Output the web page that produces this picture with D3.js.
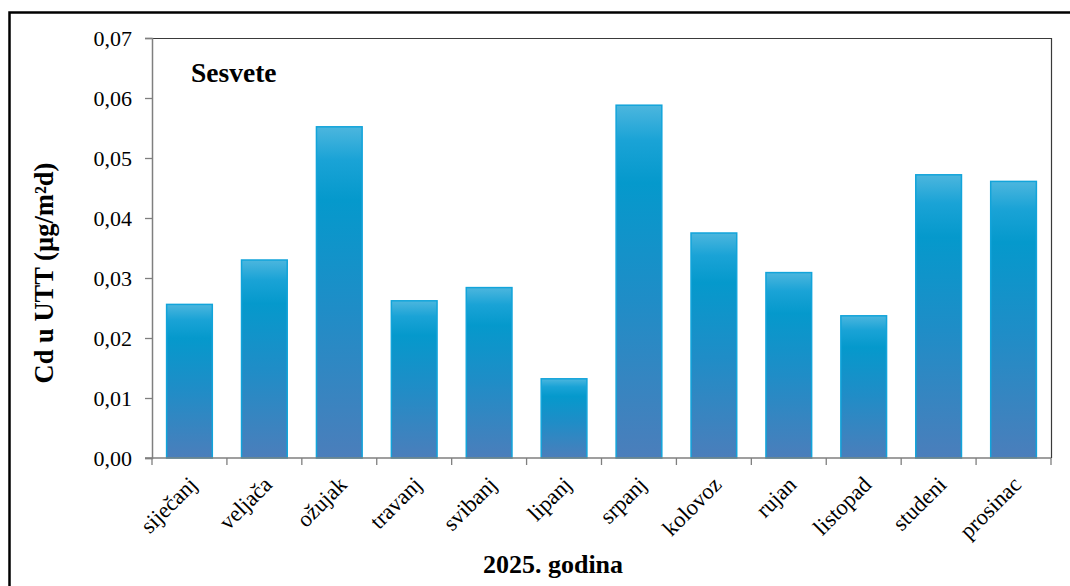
<!DOCTYPE html>
<html><head><meta charset="utf-8">
<script src="https://cdn.jsdelivr.net/npm/d3@7"></script>
<style>body{margin:0;background:#fff;} svg{display:block;}</style>
</head><body><svg id="c" width="1070" height="586"></svg>
<script>
const months = ["siječanj","veljača","ožujak","travanj","svibanj","lipanj","srpanj","kolovoz","rujan","listopad","studeni","prosinac"];
const values = [0.0256,0.0330,0.0552,0.0262,0.0284,0.0132,0.0588,0.0375,0.0309,0.0237,0.0472,0.0461];
const yTicks = [0,0.01,0.02,0.03,0.04,0.05,0.06,0.07];
const chartTitle = "Sesvete";
const xTitle = "2025. godina";
const yTitle = "Cd u UTT (µg/m²d)";

const svg = d3.select("#c");
const L = 152, R = 1051, T = 38, B = 458;
const font = "'Liberation Serif','Times New Roman',serif";

// outer frame
svg.append("rect").attr("x",9.5).attr("y",12.5).attr("width",1100).attr("height",700)
  .attr("fill","none").attr("stroke","#000").attr("stroke-width",2.5);

const x = d3.scaleBand().domain(months).range([L,R]).paddingInner(0.39).paddingOuter(0.195);
const y = d3.scaleLinear().domain([0,0.07]).range([B,T]);

const defs = svg.append("defs");
const g = defs.append("linearGradient").attr("id","bg").attr("x1",0).attr("y1",0).attr("x2",0).attr("y2",1);
[[0,"#4cb6de"],[0.1,"#1aa3d6"],[0.22,"#0599cc"],[0.55,"#1f8dc7"],[1,"#4b7ebb"]].forEach(s=>
  g.append("stop").attr("offset",s[0]).attr("stop-color",s[1]));

// plot border (top/right)
svg.append("path").attr("d",`M${L},${T+0.5}H${R+0.5}V${B}`).attr("fill","none").attr("stroke","#3a3a3a").attr("stroke-width",1.2);

// bars
svg.append("g").selectAll("rect").data(values).join("rect")
  .attr("x",(d,i)=>x(months[i]))
  .attr("y",d=>y(d))
  .attr("width",x.bandwidth())
  .attr("height",d=>B-y(d))
  .attr("fill","url(#bg)")
  .attr("stroke","#12a4da").attr("stroke-width",1.5);

// y axis
const ya = svg.append("g").attr("transform",`translate(${L},0)`)
  .call(d3.axisLeft(y).tickValues(yTicks).tickSize(7).tickPadding(13)
    .tickFormat(d=>d3.format(".2f")(d).replace(".",",")));
ya.select(".domain").attr("stroke","#7f7f7f").attr("stroke-width",1.5);
ya.selectAll(".tick line").attr("stroke","#7f7f7f").attr("stroke-width",1.3);
ya.selectAll(".tick text").attr("font-family",font).attr("font-size",22).attr("fill","#000");

// x axis with ticks at band boundaries
const step = x.step();
const bounds = months.map((m,i)=>L+i*step).concat([R]);
const xa = svg.append("g");
xa.append("line").attr("x1",L-7).attr("x2",R).attr("y1",B).attr("y2",B).attr("stroke","#7f7f7f").attr("stroke-width",1.5);
xa.selectAll("line.t").data(bounds).join("line").attr("class","t")
  .attr("x1",d=>d).attr("x2",d=>d).attr("y1",B).attr("y2",B+7).attr("stroke","#7f7f7f").attr("stroke-width",1.3);
xa.selectAll("text").data(months).join("text")
  .attr("transform",d=>`translate(${x(d)+x.bandwidth()/2+9},${B+28}) rotate(-45)`)
  .attr("text-anchor","end").attr("font-family",font).attr("font-size",22.5).attr("fill","#000")
  .text(d=>d);

// titles
svg.append("text").attr("x",191).attr("y",82).attr("font-family",font).attr("font-weight","bold")
  .attr("font-size",27.5).text(chartTitle);
svg.append("text").attr("x",553).attr("y",573).attr("text-anchor","middle").attr("font-family",font)
  .attr("font-weight","bold").attr("font-size",26).text(xTitle);
svg.append("text").attr("transform",`translate(53,273) rotate(-90)`).attr("text-anchor","middle")
  .attr("font-family",font).attr("font-weight","bold").attr("font-size",26.5).text(yTitle);
</script></body></html>
